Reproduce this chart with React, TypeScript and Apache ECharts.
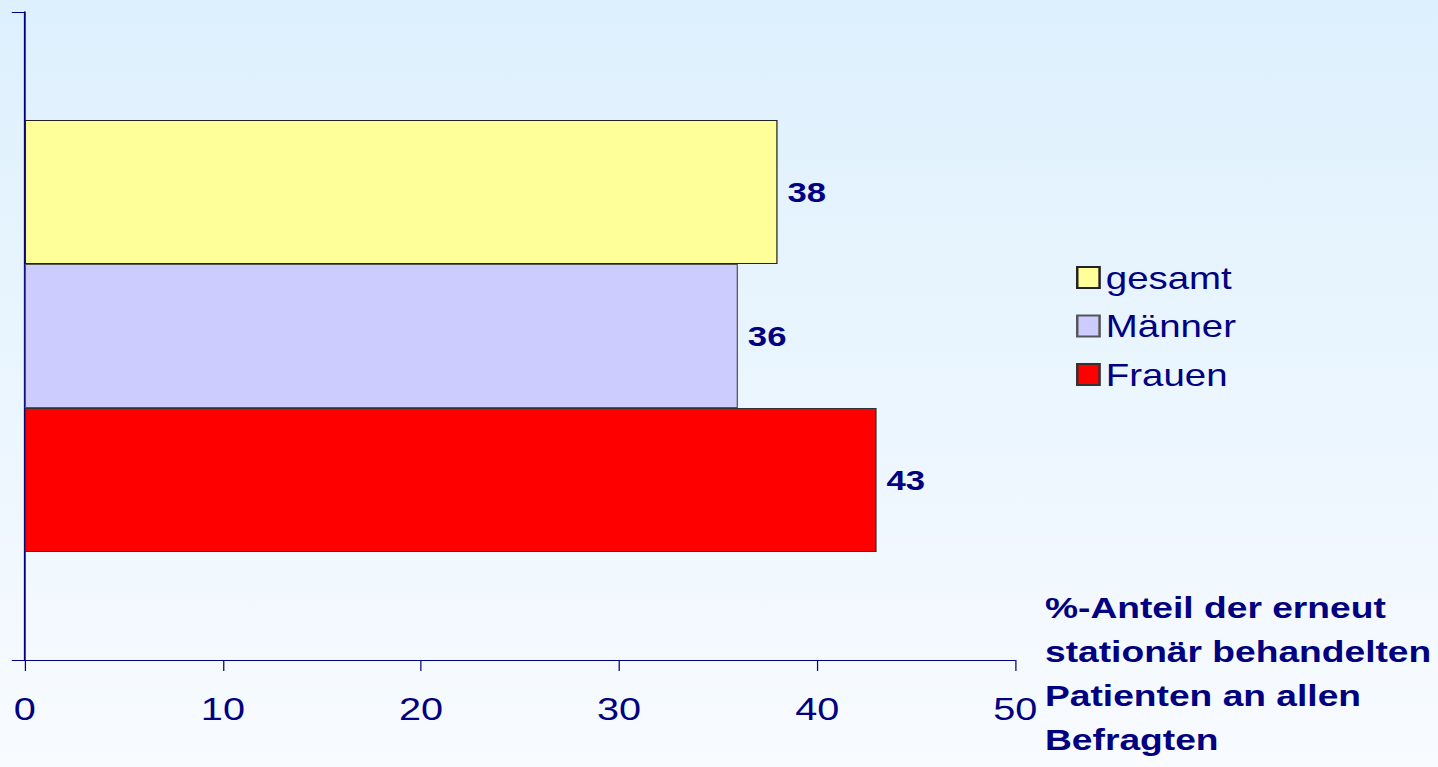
import React, { useEffect, useRef } from "react";
import * as echarts from "echarts";

const categories = [""];
const seriesNames = ["gesamt", "Männer", "Frauen"];
const gesamt = [38];
const maenner = [36];
const frauen = [43];
const xTicks = [0, 10, 20, 30, 40, 50];
const titleLines = ["%-Anteil der erneut", "stationär behandelten", "Patienten an allen", "Befragten"];

const FULL_W = 1438;
const W = 1160;
const H = 767;
const SX = FULL_W / W;
const NAVY = "#000080";
const FONT = "'Liberation Sans', Arial, Helvetica, sans-serif";

export default function App() {
  const ref = useRef<HTMLDivElement>(null);
  useEffect(() => {
    if (!ref.current) return;
    const chart = echarts.init(ref.current, undefined, { renderer: "svg", width: W, height: H });
    const label = {
      show: true,
      position: "right",
      distance: 8,
      color: NAVY,
      fontWeight: "bold",
      fontSize: 28,
      fontFamily: FONT,
    };
    const mk = (name: string, data: number[], color: string, border: string) => ({
      name,
      type: "bar",
      data,
      barWidth: 144,
      barGap: "0%",
      itemStyle: { color, borderColor: border, borderWidth: 1 },
      label,
    });
    chart.setOption({
      animation: false,
      backgroundColor: new echarts.graphic.LinearGradient(0, 0, 0, 1, [
        { offset: 0, color: "#DDF0FD" },
        { offset: 1, color: "#F8FBFF" },
      ]),
      grid: { left: 20, right: 341, top: 12, bottom: 107, containLabel: false },
      legend: {
        orient: "vertical",
        left: 863,
        top: 257,
        icon: "rect",
        itemWidth: 18,
        itemHeight: 21,
        itemGap: 17.5,
        itemTextGap: 10,
        data: seriesNames,
        textStyle: { color: NAVY, fontSize: 31, fontFamily: FONT },
      },
      xAxis: {
        type: "value",
        min: xTicks[0],
        max: xTicks[xTicks.length - 1],
        interval: 10,
        splitLine: { show: false },
        axisLine: { show: true, lineStyle: { color: NAVY, width: 1 } },
        axisTick: { show: true, length: 11, lineStyle: { color: NAVY, width: 1 } },
        axisLabel: { color: NAVY, fontSize: 32, fontFamily: FONT, margin: 33 },
      },
      yAxis: {
        type: "category",
        data: categories,
        inverse: true,
        axisLine: { show: true, lineStyle: { color: NAVY, width: 1.5 } },
        axisTick: { show: true, length: 10.5, lineStyle: { color: NAVY, width: 1 } },
        axisLabel: { show: false },
      },
      graphic: [
        {
          type: "text",
          left: 843,
          top: 585,
          style: {
            text: titleLines.join("\n"),
            fill: NAVY,
            font: `bold 30px ${FONT}`,
            lineHeight: 44,
          },
        },
      ],
      series: [
        mk(seriesNames[0], gesamt, "#FFFF99", "#222222"),
        mk(seriesNames[1], maenner, "#CCCCFF", "#555555"),
        mk(seriesNames[2], frauen, "#FF0000", "#333333"),
      ],
    });
    return () => chart.dispose();
  }, []);
  return (
    <div
      ref={ref}
      style={{
        position: "fixed",
        left: 0,
        top: 0,
        width: W,
        height: H,
        transform: `scaleX(${SX})`,
        transformOrigin: "0 0",
      }}
    />
  );
}
